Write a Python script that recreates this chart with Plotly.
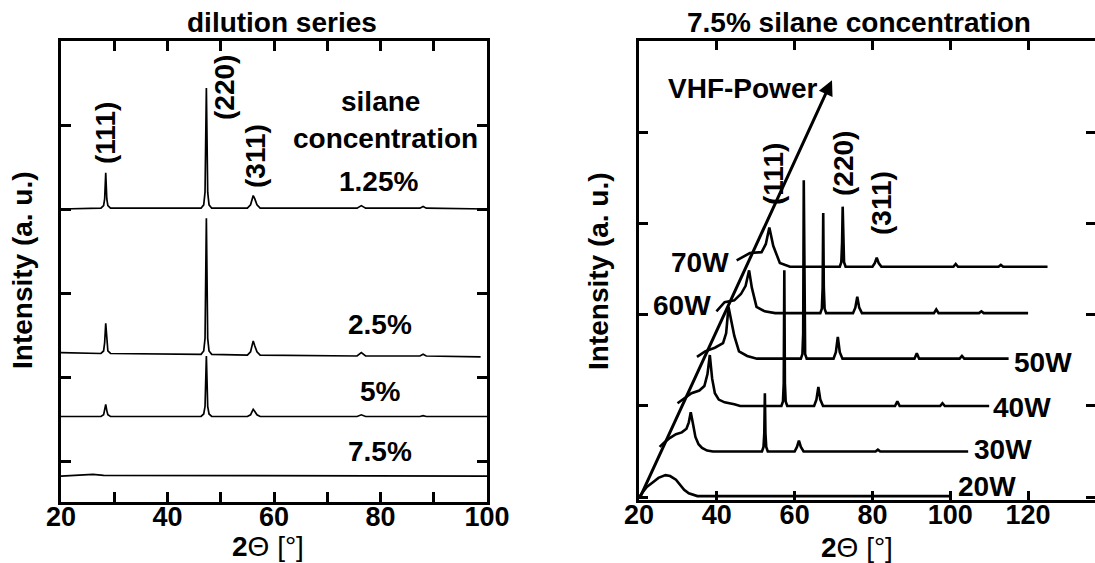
import plotly.graph_objects as go

# ---------------- data: left panel (dilution series) ----------------
dil_labels = ["1.25%", "2.5%", "5%", "7.5%"]

d125_x = [20, 27.5, 28.0, 28.2, 28.4, 28.6, 28.8, 29.3, 46.3, 46.8, 47.05, 47.3, 47.55, 47.8, 48.3,
          55.0, 55.6, 55.9, 56.1, 56.4, 56.8, 57.4, 75.6, 76.4, 77.2, 87.4, 88.0, 88.6, 100]
d125_y = [4.0, 4.01, 4.04, 4.12, 4.43, 4.12, 4.04, 4.01, 4.01, 4.05, 4.2, 5.44, 4.2, 4.05, 4.01,
          4.01, 4.05, 4.12, 4.16, 4.12, 4.05, 4.01, 4.01, 4.04, 4.01, 4.01, 4.03, 4.01, 4.0]

d25_x = [20, 27.5, 28.0, 28.2, 28.4, 28.6, 28.8, 29.3, 46.3, 46.8, 47.05, 47.3, 47.55, 47.8, 48.3,
         55.0, 55.6, 55.9, 56.1, 56.4, 56.8, 57.4, 75.6, 76.4, 77.2, 87.4, 88.0, 88.6, 98.8]
d25_y = [2.29, 2.28, 2.31, 2.41, 2.64, 2.41, 2.31, 2.28, 2.27, 2.31, 2.46, 3.89, 2.46, 2.31, 2.27,
         2.26, 2.3, 2.38, 2.43, 2.37, 2.3, 2.26, 2.25, 2.29, 2.25, 2.25, 2.27, 2.25, 2.24]

d5_x = [20, 27.5, 28.0, 28.2, 28.4, 28.6, 28.8, 29.3, 46.3, 46.8, 47.05, 47.3, 47.55, 47.8, 48.3,
        55.0, 55.6, 55.9, 56.1, 56.4, 56.8, 57.4, 75.6, 76.4, 77.2, 87.4, 88.0, 88.6, 100]
d5_y = [1.53, 1.53, 1.55, 1.6, 1.675, 1.6, 1.55, 1.53, 1.53, 1.56, 1.65, 2.25, 1.65, 1.56, 1.53,
        1.53, 1.55, 1.59, 1.615, 1.59, 1.55, 1.53, 1.53, 1.55, 1.53, 1.53, 1.54, 1.53, 1.53]

d75_x = [20, 24, 26, 28, 100]
d75_y = [0.82, 0.83, 0.84, 0.83, 0.82]

# ---------------- data: right panel (7.5% silane, VHF power) ----------------
power_labels = ["20W", "30W", "40W", "50W", "60W", "70W"]

w20_x = [20, 21, 22, 23.5, 25, 26.8, 28, 29.5, 30.5, 31.6, 32.8, 35, 100]
w20_y = [0.0, 0.06, 0.11, 0.16, 0.21, 0.24, 0.23, 0.19, 0.14, 0.08, 0.04, 0.01, 0.01]

w30_x = [25.3, 26.5, 28, 29.5, 31, 32.2, 32.8, 33.3, 33.8, 34.5, 35.3, 36.2, 37.5, 39,
         51.6, 52.0, 52.2, 52.35, 52.5, 52.7, 53.1, 60.0, 60.6, 61.1, 61.6, 62.3, 80.8, 81.4, 82.0, 104.6]
w30_y = [0.55, 0.6, 0.65, 0.69, 0.71, 0.75, 0.82, 0.93, 0.82, 0.66, 0.58, 0.54, 0.51, 0.5,
         0.5, 0.55, 0.7, 1.14, 0.7, 0.55, 0.5, 0.5, 0.55, 0.62, 0.55, 0.5, 0.5, 0.52, 0.5, 0.5]

w40_x = [29.9, 31.5, 33.5, 35.5, 36.8, 37.6, 38.2, 38.8, 39.5, 40.5, 42, 44.5, 46,
         56.6, 57.0, 57.2, 57.35, 57.5, 57.7, 58.1, 65.0, 65.6, 66.1, 66.6, 67.3,
         85.8, 86.4, 87.0, 97.4, 98.0, 98.6, 110]
w40_y = [1.03, 1.08, 1.14, 1.17, 1.22, 1.35, 1.56, 1.3, 1.14, 1.07, 1.04, 1.02, 1.0,
         1.0, 1.05, 1.25, 2.49, 1.25, 1.05, 1.0, 1.0, 1.07, 1.21, 1.07, 1.0,
         1.0, 1.05, 1.0, 1.0, 1.03, 1.0, 1.0]

w50_x = [34.9, 37, 39.5, 41.6, 42.4, 43.0, 43.7, 44.5, 45.7, 47.8, 50.3,
         61.6, 62.0, 62.2, 62.35, 62.5, 62.7, 63.1, 70.0, 70.6, 71.1, 71.6, 72.3,
         90.8, 91.4, 92.0, 102.4, 103.0, 103.6, 115]
w50_y = [1.54, 1.6, 1.64, 1.69, 1.8, 2.09, 1.94, 1.77, 1.6, 1.55, 1.52,
         1.52, 1.57, 1.8, 3.48, 1.8, 1.57, 1.52, 1.52, 1.59, 1.76, 1.59, 1.52,
         1.52, 1.58, 1.52, 1.52, 1.55, 1.52, 1.52]

w60_x = [39.9, 42, 44.5, 46.2, 47.4, 48.3, 49.0, 50.2, 52.3, 55,
         66.6, 67.0, 67.2, 67.35, 67.5, 67.7, 68.1, 75.0, 75.6, 76.1, 76.6, 77.3,
         95.8, 96.4, 97.0, 107.4, 108.0, 108.6, 120]
w60_y = [2.04, 2.14, 2.16, 2.23, 2.32, 2.49, 2.3, 2.09, 2.04, 2.02,
         2.02, 2.07, 2.3, 3.12, 2.3, 2.07, 2.02, 2.02, 2.08, 2.2, 2.08, 2.02,
         2.02, 2.06, 2.02, 2.02, 2.04, 2.02, 2.02]

w70_x = [45.1, 48.5, 51.5, 52.6, 53.5, 54.5, 56.2, 58.8, 60,
         71.6, 72.0, 72.2, 72.35, 72.5, 72.7, 73.1, 80.0, 80.6, 81.1, 81.6, 82.3,
         100.8, 101.4, 102.0, 112.4, 113.0, 113.6, 125]
w70_y = [2.6, 2.68, 2.69, 2.78, 2.96, 2.76, 2.57, 2.53, 2.53,
         2.53, 2.58, 2.8, 3.19, 2.8, 2.58, 2.53, 2.53, 2.57, 2.63, 2.57, 2.53,
         2.53, 2.56, 2.53, 2.53, 2.55, 2.53, 2.53]

left_xticks = [20, 30, 40, 50, 60, 70, 80, 90, 100]
left_xticktext = ["20", "", "40", "", "60", "", "80", "", "100"]
right_xticks = [20, 40, 60, 80, 100, 120]
right_xticktext = ["20", "40", "60", "80", "100", "120"]

# ---------------- figure ----------------
W, H = 1095, 563
FONT = "Liberation Sans, Arial, sans-serif"


def fx(p):
    return p / W


def fy(p):
    return 1 - p / H


def bold(labels):
    return ["<b>%s</b>" % t if t else "" for t in labels]


fig = go.Figure()

for xs, ys in [(d125_x, d125_y), (d25_x, d25_y), (d5_x, d5_y), (d75_x, d75_y)]:
    fig.add_trace(go.Scatter(x=xs, y=ys, mode="lines", line=dict(color="black", width=1.7),
                             xaxis="x", yaxis="y", showlegend=False, hoverinfo="skip"))

for xs, ys in [(w20_x, w20_y), (w30_x, w30_y), (w40_x, w40_y), (w50_x, w50_y),
               (w60_x, w60_y), (w70_x, w70_y)]:
    fig.add_trace(go.Scatter(x=xs, y=ys, mode="lines", line=dict(color="black", width=2.6),
                             xaxis="x2", yaxis="y2", showlegend=False, hoverinfo="skip"))

# invisible trace to hold the right-side tick axis
fig.add_trace(go.Scatter(x=[None], y=[None], xaxis="x2", yaxis="y3", showlegend=False,
                         hoverinfo="skip"))

tickfont = dict(family=FONT, size=27, color="black")

fig.update_layout(
    template="none",
    width=W, height=H,
    margin=dict(l=0, r=0, t=0, b=0, autoexpand=False),
    paper_bgcolor="white", plot_bgcolor="white",
    xaxis=dict(domain=[fx(61), fx(487)], range=[20, 100], anchor="y", automargin=False,
               tickvals=left_xticks, ticktext=bold(left_xticktext), ticks="inside", ticklen=10,
               tickwidth=2.5, tickcolor="black", showline=True, linewidth=3, linecolor="black",
               mirror="ticks", showgrid=False, zeroline=False, tickfont=tickfont,
               ticklabelstandoff=-11),
    yaxis=dict(domain=[fy(502), fy(41)], range=[0.512, 6.0], anchor="x", automargin=False,
               tickvals=[1, 2, 3, 4, 5], showticklabels=False, ticks="inside", ticklen=10,
               tickwidth=2.5, tickcolor="black", showline=True, linewidth=3, linecolor="black",
               mirror="ticks", showgrid=False, zeroline=False),
    xaxis2=dict(domain=[fx(639), 1.0], range=[20, 137.2], anchor="y2", automargin=False,
                tickvals=right_xticks, ticktext=bold(right_xticktext), ticks="inside", ticklen=9,
                tickwidth=2.5, tickcolor="black", showline=True, linewidth=3, linecolor="black",
                mirror="ticks", showgrid=False, zeroline=False, tickfont=tickfont,
                ticklabelstandoff=-11),
    yaxis2=dict(domain=[fy(500), fy(41)], range=[-0.033, 5.01], anchor="x2", automargin=False,
                tickvals=[0, 1, 2, 3, 4], showticklabels=False, ticks="inside", ticklen=9,
                tickwidth=2.5, tickcolor="black", showline=True, linewidth=3, linecolor="black",
                mirror=False, showgrid=False, zeroline=False),
    yaxis3=dict(domain=[fy(500), fy(41)], range=[-0.033, 5.01], overlaying="y2", side="right",
                anchor="x2", automargin=False, tickvals=[0, 1, 2, 3, 4], showticklabels=False,
                ticks="inside", ticklen=9, tickwidth=2.5, tickcolor="black", showline=False,
                showgrid=False, zeroline=False),
)

anns = []


def ann(text, xp, yp, size=28, angle=0, bold=True):
    anns.append(dict(text=text, x=fx(xp), y=fy(yp), xref="paper", yref="paper",
                     showarrow=False, textangle=angle, xanchor="center", yanchor="middle",
                     font=dict(family=FONT, size=size, color="black",
                               weight="bold" if bold else "normal")))


# left panel texts
ann("dilution series", 282, 23)
ann("silane", 380, 102)
ann("concentration", 385, 139)
ann(dil_labels[0], 378, 181)
ann(dil_labels[1], 380, 324)
ann(dil_labels[2], 380, 391)
ann(dil_labels[3], 380, 451)
ann("(111)", 106, 133, angle=-90)
ann("(220)", 225, 88, angle=-90)
ann("(311)", 255, 156, angle=-90)
ann("Intensity (a. u.)", 22, 270, size=28, angle=-90)
ann("<b>2</b>Θ [°]", 268, 546, bold=False)

# right panel texts
ann("7.5% silane concentration", 859, 23)
ann("VHF-Power", 742, 89)
ann("(111)", 773, 174, angle=-90)
ann("(220)", 843, 163, angle=-90)
ann("(311)", 881, 203, angle=-90)
pw_pos = [(987, 486), (1003, 449), (1022, 407), (1043, 362), (682, 305), (700, 262)]
for lab, (xp, yp) in zip(power_labels, pw_pos):
    ann(lab, xp, yp)
ann("Intensity (a. u.)", 599, 271, size=28, angle=-90)
ann("<b>2</b>Θ [°]", 857, 547, bold=False)

# VHF power arrow
anns.append(dict(x=69.6, y=4.58, ax=20, ay=-0.03, xref="x2", yref="y2", axref="x2", ayref="y2",
                 showarrow=True, arrowhead=2, arrowsize=1.0, arrowwidth=3, arrowcolor="black",
                 text=""))

fig.update_layout(annotations=anns)

fig.write_html("out.html")
